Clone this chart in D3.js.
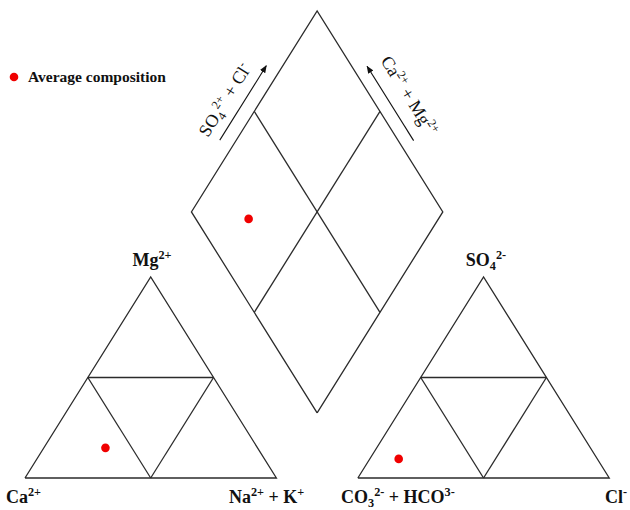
<!DOCTYPE html>
<html>
<head>
<meta charset="utf-8">
<script src="https://cdn.jsdelivr.net/npm/d3@7"></script>
<style>
  body { margin: 0; background: #fff; }
  svg { display: block; font-family: "Liberation Serif", "Times New Roman", serif; }
  .frame { fill: none; stroke: #2b2b2b; stroke-width: 1.3; }
  .corner-label { font-weight: bold; fill: #111; }
  .side-label { fill: #111; }
</style>
</head>
<body>
<div id="chart"></div>
<script>
////////////////////////////////////////////////////////////
///////////////////////// Data /////////////////////////////
////////////////////////////////////////////////////////////

//Average composition in meq %
var cationNames = ["Ca", "Mg", "NaK"];
var avgCations = [60.5, 15, 24.5];     //Ca2+, Mg2+, Na+ + K+
var anionNames = ["HCO3", "SO4", "Cl"];
var avgAnions = [79, 9.5, 11.5];       //CO3 + HCO3, SO4, Cl
var gridFractions = [0.5];
var legendLabel = "Average composition";

////////////////////////////////////////////////////////////
//////////////////////// Set-up ////////////////////////////
////////////////////////////////////////////////////////////

var width = 630, height = 510;
var gap = 0.324;            //space between the triangles, in triangle-side units
var extent = 2 + gap;

var svg = d3.select("#chart").append("svg")
	.attr("width", width)
	.attr("height", height);

//One unit = one triangle side (x) / one triangle height (y)
var x = d3.scaleLinear().domain([0, extent]).range([25, 25 + extent * 251.4]);
var y = d3.scaleLinear().domain([0, extent]).range([478, 478 - extent * 201]);

var line = d3.line().x(function(d) { return x(d[0]); }).y(function(d) { return y(d[1]); });

//Ternary (fractions) -> unit coords
function cationPos(ca, mg, nak) { return [nak + mg / 2, mg]; }
function anionPos(hco3, so4, cl) { return [1 + gap + cl + so4 / 2, so4]; }
var dBottom = [1 + gap / 2, gap];
function diamondPos(caMg, so4Cl) {
	return [dBottom[0] - caMg * 0.5 + so4Cl * 0.5, dBottom[1] + caMg + so4Cl];
}

////////////////////////////////////////////////////////////
/////////////////////// Frames /////////////////////////////
////////////////////////////////////////////////////////////

var frames = [
	[cationPos(1,0,0), cationPos(0,1,0), cationPos(0,0,1), cationPos(1,0,0)],
	[anionPos(1,0,0), anionPos(0,1,0), anionPos(0,0,1), anionPos(1,0,0)],
	[diamondPos(0,0), diamondPos(1,0), diamondPos(1,1), diamondPos(0,1), diamondPos(0,0)]
];

//Inner 50% lines
gridFractions.forEach(function(f) {
	var g = 1 - f;
	frames.push([cationPos(g,f,0), cationPos(0,f,g)]);
	frames.push([cationPos(f,g,0), cationPos(f,0,g)]);
	frames.push([cationPos(g,0,f), cationPos(0,g,f)]);
	frames.push([anionPos(g,f,0), anionPos(0,f,g)]);
	frames.push([anionPos(f,g,0), anionPos(f,0,g)]);
	frames.push([anionPos(g,0,f), anionPos(0,g,f)]);
	frames.push([diamondPos(f,0), diamondPos(f,1)]);
	frames.push([diamondPos(0,f), diamondPos(1,f)]);
});

svg.selectAll(".frame")
	.data(frames)
	.enter().append("path")
	.attr("class", "frame")
	.attr("stroke-linejoin", "miter")
	.attr("d", line);

////////////////////////////////////////////////////////////
/////////////////////// Points /////////////////////////////
////////////////////////////////////////////////////////////

var c = avgCations.map(function(v) { return v / 100; });
var a = avgAnions.map(function(v) { return v / 100; });
var points = [
	cationPos(c[0], c[1], c[2]),
	anionPos(a[0], a[1], a[2]),
	diamondPos(c[0] + c[1], a[1] + a[2])
];

svg.selectAll(".avg-point")
	.data(points)
	.enter().append("circle")
	.attr("class", "avg-point")
	.attr("cx", function(d) { return x(d[0]); })
	.attr("cy", function(d) { return y(d[1]); })
	.attr("r", 4.3)
	.style("fill", "#f00000");

////////////////////////////////////////////////////////////
/////////////////////// Labels /////////////////////////////
////////////////////////////////////////////////////////////

//Write text with sub/superscript parts
function richText(sel, parts, size) {
	var shift = 0;
	parts.forEach(function(p) {
		var target = p[1] === "sup" ? -size * 0.38 : p[1] === "sub" ? size * 0.22 : 0;
		sel.append("tspan")
			.attr("dy", target - shift)
			.style("font-size", p[1] ? (size * 0.68) + "px" : size + "px")
			.text(p[0]);
		shift = target;
	});
}

var cornerLabels = [
	{x: 152, y: 266, anchor: "middle", parts: [["Mg",""],["2+","sup"]]},
	{x: 6, y: 503, anchor: "start", parts: [["Ca",""],["2+","sup"]]},
	{x: 229, y: 503, anchor: "start", parts: [["Na",""],["2+","sup"],[" + K",""],["+","sup"]]},
	{x: 486, y: 266, anchor: "middle", parts: [["SO",""],["4","sub"],["2-","sup"]]},
	{x: 341, y: 503, anchor: "start", parts: [["CO",""],["3","sub"],["2-","sup"],[" + HCO",""],["3-","sup"]]},
	{x: 605, y: 503, anchor: "start", parts: [["Cl",""],["-","sup"]]}
];

cornerLabels.forEach(function(l) {
	var t = svg.append("text")
		.attr("class", "corner-label")
		.attr("x", l.x)
		.attr("y", l.y)
		.attr("text-anchor", l.anchor);
	richText(t, l.parts, 18);
});

//Diamond side labels with arrows
svg.append("defs").append("marker")
	.attr("id", "arrow")
	.attr("viewBox", "0 0 10 10")
	.attr("refX", 9).attr("refY", 5)
	.attr("markerWidth", 7).attr("markerHeight", 7)
	.attr("orient", "auto")
	.append("path")
	.attr("d", "M0,1L10,5L0,9Z")
	.style("fill", "#111");

var dLeft = diamondPos(1, 0), dTop = diamondPos(1, 1), dRight = diamondPos(0, 1);

function sideAnnotation(p0, p1, parts, arrowT, arrowOffset, textT, textOffset) {
	var x0 = x(p0[0]), y0 = y(p0[1]), x1 = x(p1[0]), y1 = y(p1[1]);
	var len = Math.sqrt((x1 - x0) * (x1 - x0) + (y1 - y0) * (y1 - y0));
	var ux = (x1 - x0) / len, uy = (y1 - y0) / len;
	//outward normal (pointing up)
	var nx = uy, ny = -ux;
	if (ny > 0) { nx = -nx; ny = -ny; }
	var along = function(t, off) { return [x0 + (x1 - x0) * t + nx * off, y0 + (y1 - y0) * t + ny * off]; };

	var s = along(arrowT[0], arrowOffset), e = along(arrowT[1], arrowOffset);
	svg.append("line")
		.attr("x1", s[0]).attr("y1", s[1])
		.attr("x2", e[0]).attr("y2", e[1])
		.style("stroke", "#111")
		.style("stroke-width", 1.1)
		.attr("marker-end", "url(#arrow)");

	var m = along(textT, textOffset);
	var angle = Math.atan2(uy, ux) * 180 / Math.PI;
	if (angle > 90) angle -= 180;
	if (angle < -90) angle += 180;
	var t = svg.append("text")
		.attr("class", "side-label")
		.attr("text-anchor", "middle")
		.attr("transform", "translate(" + m[0] + "," + m[1] + ")rotate(" + angle + ")");
	richText(t, parts, 18);
}

sideAnnotation(dLeft, dTop, [["SO",""],["4","sub"],["2+","sup"],[" + Cl",""],["-","sup"]], [0.32, 0.69], 14, 0.475, 25);
sideAnnotation(dRight, dTop, [["Ca",""],["2+","sup"],[" + Mg",""],["2+","sup"]], [0.32, 0.69], 13, 0.49, 27);

////////////////////////////////////////////////////////////
/////////////////////// Legend /////////////////////////////
////////////////////////////////////////////////////////////

var legend = svg.append("g").attr("transform", "translate(14,77)");
legend.append("circle").attr("r", 4.3).style("fill", "#f00000");
legend.append("text")
	.attr("x", 14)
	.attr("y", 5)
	.style("font-weight", "bold")
	.style("font-size", "15.5px")
	.style("fill", "#111")
	.text(legendLabel);
</script>
</body>
</html>
